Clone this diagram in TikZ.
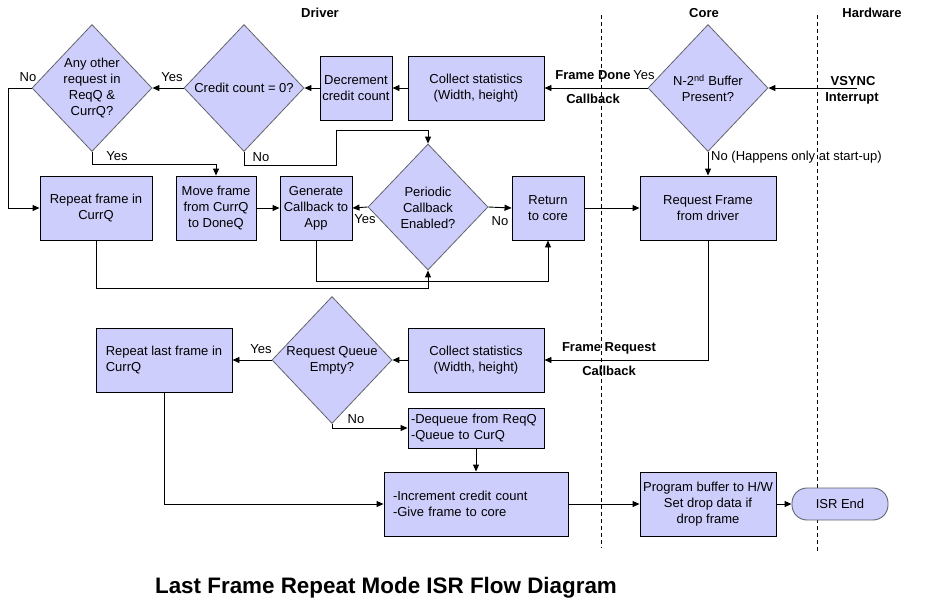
\documentclass[tikz,border=0pt]{standalone}
\usepackage{fontspec}
\setmainfont{Liberation Sans}
\usetikzlibrary{shapes.geometric,arrows.meta}
\definecolor{boxfill}{RGB}{206,206,252}
\definecolor{diaedge}{RGB}{100,100,110}
\begin{document}
\begin{tikzpicture}[x=1pt,y=-1pt,
  every node/.style={font=\fontsize{13}{16}\selectfont},
  box/.style={draw=black, line width=0.9pt, fill=boxfill, align=center, inner sep=1pt},
  dia/.style={diamond, draw=diaedge, line width=0.8pt, fill=boxfill, inner sep=0pt, minimum width=120pt, minimum height=127pt},
  dtext/.style={align=center, inner sep=0pt},
  arr/.style={-{Triangle[length=7pt,width=6pt]}, line width=0.9pt},
  lbl/.style={inner sep=0pt},
  blbl/.style={inner sep=0pt, font=\bfseries\fontsize{13}{16}\selectfont},
  lane/.style={dash pattern=on 4pt off 3pt, line width=0.7pt}]
\useasboundingbox (0,0) rectangle (928,614);

% lane labels and separators
\node[blbl] (lDriver) at (320,13) {Driver};
\node[blbl] (lCore) at (704,13) {Core};
\node[blbl] (lHw) at (872,13) {Hardware};
\draw[lane] (601,15) -- (601,548);
\draw[lane] (817,15) -- (817,552);

% top row
\node[dia] (d1) at (92,88) {};
\node[dtext] (d1t) at (d1) {Any other\\request in\\ReqQ \&\\CurrQ?};
\node[dia] (d2) at (244,88) {};
\node[dtext] (d2t) at (d2) {Credit count = 0?};
\node[box, minimum width=72pt, minimum height=64pt] (dec) at (356,88) {Decrement\\credit count};
\node[box, minimum width=136pt, minimum height=64pt] (col1) at (476,88) {Collect statistics\\(Width, height)};
\node[dia] (d3) at (708,88) {};
\node[dtext] (d3t) at (d3) {N-2\textsuperscript{nd} Buffer\\Present?};

% second row
\node[box, minimum width=112pt, minimum height=64pt] (rep) at (96,208) {Repeat frame in\\CurrQ};
\node[box, minimum width=80pt, minimum height=64pt] (mv) at (216,208) {Move frame\\from CurrQ\\to DoneQ};
\node[box, minimum width=72pt, minimum height=64pt] (gen) at (316,208) {Generate\\Callback to\\App};
\node[dia, minimum height=126pt] (d4) at (428,207) {};
\node[dtext] (d4t) at (428,208) {Periodic\\Callback\\Enabled?};
\node[box, minimum width=72pt, minimum height=64pt] (ret) at (548,208) {Return\\to core};
\node[box, minimum width=136pt, minimum height=64pt] (req) at (708,208) {Request Frame\\from driver};

% lower part
\node[box, minimum width=136pt, minimum height=64pt] (col2) at (476,360) {Collect statistics\\(Width, height)};
\node[dia] (d5) at (332,360) {};
\node[dtext] (d5t) at (d5) {Request Queue\\Empty?};
\node[box, minimum width=136pt, minimum height=64pt, align=left] (rl) at (164,360) {Repeat last frame in\\CurrQ};
\node[box, minimum width=136pt, minimum height=40pt, text width=130pt, align=left] (deq) at (476,428) {-Dequeue from ReqQ\\-Queue to CurQ};
\node[box, minimum width=184pt, minimum height=64pt, text width=166pt, align=left] (inc) at (476,504) {-Increment credit count\\-Give frame to core};
\node[box, minimum width=136pt, minimum height=64pt] (prog) at (708,504) {Program buffer to H/W\\Set drop data if\\drop frame};
\node[draw=diaedge, line width=0.9pt, fill=boxfill, rounded corners=15pt, minimum width=96pt, minimum height=32pt, inner sep=1pt] (isr) at (840,504) {ISR End};

% title
\node[inner sep=0pt, font=\bfseries\fontsize{22.4}{26}\selectfont] (title) at (386,588) {Last Frame Repeat Mode ISR Flow Diagram};

% connectors
\coordinate (vs) at (857,88);
\draw[arr] (vs) -- (d3.east);
\draw[arr] (d3.west) -- (col1.east);
\draw[arr] (col1.west) -- (dec.east);
\draw[arr] (dec.west) -- (d2.east);
\draw[arr] (d2.west) -- (d1.east);
\draw[arr] (d1.west) -- (8,88) |- (rep.west);
\draw[arr] (d1.south) |- (216,164) -- (mv.north);
\draw[arr] (d2.south) |- (336,165) -- (336,130) -| (d4.north);
\draw[arr] (mv.east) -- (gen.west);
\draw[arr] (d4.west) -- (gen.east);
\draw[arr] (d4.east) -- (ret.west);
\draw[arr] (ret.east) -- (req.west);
\draw[arr] (d3.south) -- (req.north);
\draw[arr] (gen.south) |- (548,281) -- (ret.south);
\draw[arr] (rep.south) |- (428,288) -- (d4.south);
\draw[arr] (req.south) |- (col2.east);
\draw[arr] (col2.west) -- (d5.east);
\draw[arr] (d5.west) -- (rl.east);
\draw[arr] (d5.south) |- (deq.west);
\draw[arr] (deq.south) -- (inc.north);
\draw[arr] (rl.south) |- (inc.west);
\draw[arr] (inc.east) -- (prog.west);
\draw[arr] (prog.east) -- (isr.west);

% connector labels
\node[lbl] (n1) at (28,77) {No};
\node[lbl] (y1) at (117,156) {Yes};
\node[lbl] (y2) at (172,77) {Yes};
\node[lbl] (n2) at (261,157) {No};
\node[lbl] (y4) at (365,219) {Yes};
\node[lbl] (n4) at (500,221) {No};
\node[blbl] (fd) at (593,75) {Frame Done};
\node[lbl] (y3) at (644,75) {Yes};
\node[blbl] (cb1) at (593,99) {Callback};
\node[blbl] (vsync) at (853,81) {VSYNC};
\node[blbl] (intr) at (852,98) {Interrupt};
\node[lbl, anchor=west] (n3) at (711,157) {No (Happens only at start-up)};
\node[blbl] (fr) at (609,348) {Frame Request};
\node[blbl] (cb2) at (609,371) {Callback};
\node[lbl] (y5) at (261,349) {Yes};
\node[lbl] (n5) at (356,419) {No};
\end{tikzpicture}
\end{document}
